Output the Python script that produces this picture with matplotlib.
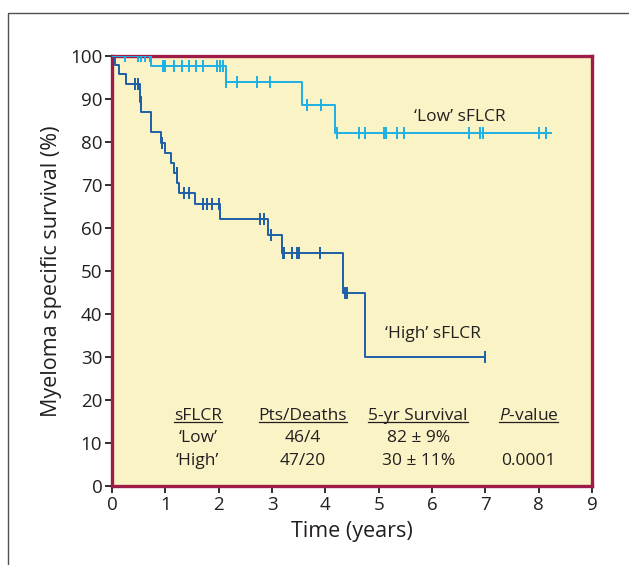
import numpy as np
import matplotlib
matplotlib.use("Agg")
import matplotlib.pyplot as plt
from matplotlib.patches import Rectangle
from matplotlib.lines import Line2D

plt.rcParams['font.family'] = ['Open Sans', 'DejaVu Sans']
plt.rcParams['mathtext.fontset'] = 'custom'
plt.rcParams['mathtext.it'] = 'Open Sans:italic'
plt.rcParams['mathtext.rm'] = 'Open Sans'

# ---- data ----
low_event_t = [0.0, 0.74, 2.14, 3.56, 4.19]
low_event_s = [100.0, 97.6, 94.0, 88.6, 82.2]
low_end = 8.23
low_censor = [0.24, 0.49, 0.54, 0.62, 0.71, 0.96, 1.00, 1.16, 1.31, 1.45, 1.57,
              1.71, 1.96, 2.03, 2.08, 2.14, 2.35, 2.72, 2.96, 3.66, 3.91, 4.21,
              4.64, 4.75, 5.10, 5.13, 5.34, 5.47, 6.70, 6.90, 6.96, 8.00, 8.13]

high_event_t = [0.0, 0.06, 0.13, 0.26, 0.52, 0.55, 0.73, 0.92, 1.00, 1.10, 1.16,
                1.22, 1.26, 1.56, 2.02, 2.93, 3.18, 4.34, 4.74]
high_event_s = [100.0, 97.9, 95.7, 93.6, 89.2, 87.0, 82.4, 79.7, 77.5, 75.2, 72.9,
                70.5, 68.2, 65.5, 62.1, 58.4, 54.1, 45.0, 30.1]
high_end = 7.0
high_censor = [0.43, 0.48, 0.54, 0.93, 1.21, 1.35, 1.44, 1.71, 1.79, 1.88, 2.01,
               2.77, 2.85, 2.98, 3.20, 3.23, 3.37, 3.47, 3.51, 3.90, 4.36, 4.41, 7.0]

table_cols = ['sFLCR', 'Pts/Deaths', '5-yr Survival', '$\\it{P}$-value']
table_low = ["\u2018Low\u2019", '46/4', '82 \u00b1 9%', '']
table_high = ["\u2018High\u2019", '47/20', '30 \u00b1 11%', '0.0001']

low_color = '#1cb0e6'
high_color = '#1f5ea8'
text_color = '#231f20'

fig = plt.figure(figsize=(6.29, 5.65), dpi=100)
# outer frame
fig.patches.append(Rectangle((8/629, -0.1), 1.0, (565-13)/565 + 0.1,
                             transform=fig.transFigure, fill=False,
                             edgecolor='#505050', lw=1.0))

ax = fig.add_axes([112/629, 1-486/565, (592-112)/629, (486-56)/565])
ax.set_facecolor('#faf3c6')
for sp in ax.spines.values():
    sp.set_color('#a01c48')
    sp.set_linewidth(2.4)


def surv_at(ts, ss, t):
    idx = np.searchsorted(ts, t, side='right') - 1
    return np.array(ss)[idx]


def draw_curve(ts, ss, end, cens, color):
    x = list(ts) + [end]
    y = list(ss) + [ss[-1]]
    ax.step(x, y, where='post', color=color, lw=1.4, zorder=3)
    cy = surv_at(np.array(ts), ss, np.array(cens))
    ax.plot(cens, cy, ls='none', marker='|', ms=9, mew=1.4, color=color, zorder=4)


draw_curve(high_event_t, high_event_s, high_end, high_censor, high_color)
draw_curve(low_event_t, low_event_s, low_end, low_censor, low_color)

ax.set_xlim(0, 9)
ax.set_ylim(0, 100)
ax.set_xticks(range(0, 10))
ax.set_yticks(range(0, 101, 10))
ax.tick_params(direction='out', length=5, width=1.3, color=text_color,
               labelsize=13.5, labelcolor=text_color, pad=2)
ax.set_xlabel('Time (years)', fontsize=15.5, color=text_color, labelpad=5)
ax.set_ylabel('Myeloma specific survival (%)', fontsize=15.5, color=text_color, labelpad=6)

ax.text(5.66, 85.8, "\u2018Low\u2019 sFLCR", fontsize=12.5, color=text_color, va='center')
ax.text(5.12, 35.3, "\u2018High\u2019 sFLCR", fontsize=12.5, color=text_color, va='center')

col_x = [1.61, 3.58, 5.74, 7.81]
row_y = [16.3, 11.2, 5.8]
heads = []
for cx, h in zip(col_x, table_cols):
    heads.append(ax.text(cx, row_y[0], h, fontsize=12.5, color=text_color, ha='center', va='center'))
for cx, v in zip(col_x, table_low):
    ax.text(cx, row_y[1], v, fontsize=12.5, color=text_color, ha='center', va='center')
for cx, v in zip(col_x, table_high):
    ax.text(cx, row_y[2], v, fontsize=12.5, color=text_color, ha='center', va='center')

fig.canvas.draw()
r = fig.canvas.get_renderer()
inv = ax.transData.inverted()
for t in heads:
    bb = t.get_window_extent(r)
    (x0, y0), (x1, y1) = inv.transform([(bb.x0, bb.y0), (bb.x1, bb.y0)])
    ax.add_line(Line2D([x0, x1], [y0 + 0.5, y0 + 0.5], color=text_color, lw=0.9))

fig.savefig('out.png', dpi=100)
